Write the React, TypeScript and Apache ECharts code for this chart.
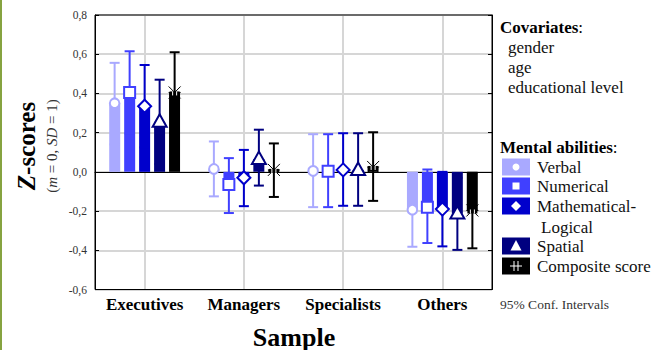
import React, { useEffect, useRef } from "react";
import * as echarts from "echarts";

const categories = ["Executives", "Managers", "Specialists", "Others"];
const abilities = ["Verbal", "Numerical", "Mathematical-Logical", "Spatial", "Composite score"];
const colors = ["#a9a9ff", "#4040ff", "#0000cc", "#000080", "#000000"];

// [mean, lower 95% CI, upper 95% CI] per category
const verbal = [[0.35, 0.14, 0.556], [0.015, -0.125, 0.155], [0.005, -0.18, 0.192], [-0.193, -0.382, -0.005]];
const numerical = [[0.405, 0.195, 0.615], [-0.065, -0.21, 0.07], [0.003, -0.18, 0.192], [-0.18, -0.363, 0.012]];
const mathematical = [[0.335, 0.125, 0.545], [-0.03, -0.175, 0.112], [0.01, -0.173, 0.197], [-0.19, -0.38, 0.0]];
const spatial = [[0.255, 0.04, 0.47], [0.065, -0.07, 0.215], [0.01, -0.173, 0.197], [-0.213, -0.398, -0.03]];
const composite = [[0.405, 0.2, 0.61], [0.01, -0.128, 0.145], [0.025, -0.148, 0.202], [-0.197, -0.39, -0.005]];

const yTicks = { min: -0.6, max: 0.8, interval: 0.2 };

const FONT = "Liberation Serif";

const allSeries = [verbal, numerical, mathematical, spatial, composite];

function txt(text: string, x: number, y: number, size: number, extra: any = {}) {
  return {
    type: "text",
    x,
    y,
    style: {
      text,
      fontFamily: FONT,
      fontSize: size,
      fill: "#111",
      textVerticalAlign: "middle",
      ...extra,
    },
  };
}

function markerShapes(kind: number, cx: number, cy: number, color: string) {
  const st = { fill: "#fff", stroke: color, lineWidth: 2 };
  if (kind === 0) return [{ type: "circle", shape: { cx, cy, r: 4.8 }, style: st }];
  if (kind === 1) return [{ type: "rect", shape: { x: cx - 5.5, y: cy - 5.5, width: 11, height: 11 }, style: st }];
  if (kind === 2)
    return [{ type: "polygon", shape: { points: [[cx, cy - 6.5], [cx + 6.5, cy], [cx, cy + 6.5], [cx - 6.5, cy]] }, style: st }];
  if (kind === 3)
    return [{ type: "polygon", shape: { points: [[cx, cy - 7.5], [cx + 7, cy + 5], [cx - 7, cy + 5]] }, style: st }];
  const ls = { stroke: "#000", lineWidth: 1 };
  return [
    { type: "rect", shape: { x: cx - 5, y: cy - 1, width: 10, height: 4 }, style: { fill: "#000" } },
    { type: "line", shape: { x1: cx - 6, y1: cy - 6, x2: cx + 6, y2: cy + 6 }, style: ls },
    { type: "line", shape: { x1: cx - 6, y1: cy + 6, x2: cx + 6, y2: cy - 6 }, style: ls },
    { type: "line", shape: { x1: cx - 6, y1: cy, x2: cx + 6, y2: cy }, style: ls },
    { type: "line", shape: { x1: cx - 2, y1: cy - 1, x2: cx - 2, y2: cy + 3 }, style: { stroke: "#fff", lineWidth: 1 } },
    { type: "line", shape: { x1: cx + 2, y1: cy - 1, x2: cx + 2, y2: cy + 3 }, style: { stroke: "#fff", lineWidth: 1 } },
  ];
}

export default function App() {
  const ref = useRef<HTMLDivElement>(null);
  useEffect(() => {
    if (!ref.current) return;
    const chart = echarts.init(ref.current, undefined, { renderer: "svg" });

    const barSeries = allSeries.map((s, i) => ({
      type: "bar",
      name: abilities[i],
      data: s.map((d) => d[0]),
      barWidth: 11,
      barGap: "36%",
      itemStyle: { color: colors[i] },
      z: 2,
      silent: true,
    }));

    const errSeries = allSeries.map((s, i) => ({
      type: "custom",
      name: abilities[i] + " CI",
      data: s.map((d, j) => [j, d[0], d[1], d[2]]),
      encode: { x: 0, y: 1 },
      z: 3,
      silent: true,
      renderItem: (params: any, api: any) => {
        const x = api.value(0);
        const c = api.coord([x, api.value(1)]);
        const lo = api.coord([x, api.value(2)]);
        const hi = api.coord([x, api.value(3)]);
        const cx = c[0] + (i - 2) * 15;
        const col = colors[i];
        const ls = { stroke: col, lineWidth: 2 };
        return {
          type: "group",
          children: [
            { type: "line", shape: { x1: cx, y1: lo[1], x2: cx, y2: hi[1] }, style: ls },
            { type: "line", shape: { x1: cx - 5, y1: lo[1], x2: cx + 5, y2: lo[1] }, style: ls },
            { type: "line", shape: { x1: cx - 5, y1: hi[1], x2: cx + 5, y2: hi[1] }, style: ls },
            ...markerShapes(i, cx, c[1], col),
          ],
        };
      },
    }));

    const legendY = [167, 186, 206, 246, 266];
    const legendGraphics: any[] = [];
    abilities.forEach((a, i) => {
      const y = legendY[i];
      legendGraphics.push({
        type: "rect",
        shape: { x: 502, y: y - 8.5, width: 28, height: 17 },
        style: { fill: colors[i] },
      });
      const cx = 516;
      const w = { fill: "#fff" };
      if (i === 0) legendGraphics.push({ type: "circle", shape: { cx, cy: y, r: 3.5 }, style: w });
      if (i === 1) legendGraphics.push({ type: "rect", shape: { x: cx - 3.5, y: y - 3.5, width: 7, height: 7 }, style: w });
      if (i === 2)
        legendGraphics.push({ type: "polygon", shape: { points: [[cx, y - 5], [cx + 5, y], [cx, y + 5], [cx - 5, y]] }, style: w });
      if (i === 3)
        legendGraphics.push({ type: "polygon", shape: { points: [[cx, y - 6], [cx + 5.5, y + 4.5], [cx - 5.5, y + 4.5]] }, style: w });
      if (i === 4) {
        const ws = { stroke: "#fff", lineWidth: 1 };
        legendGraphics.push(
          { type: "line", shape: { x1: cx - 2, y1: y - 5, x2: cx - 2, y2: y + 5 }, style: ws },
          { type: "line", shape: { x1: cx + 2, y1: y - 5, x2: cx + 2, y2: y + 5 }, style: ws },
          { type: "line", shape: { x1: cx - 6, y1: y, x2: cx + 6, y2: y }, style: ws }
        );
      }
      const label = i === 2 ? "Mathematical-" : a;
      legendGraphics.push(txt(label, 537, y, 17));
    });
    legendGraphics.push(txt("Logical", 541, 227, 17));

    const option: any = {
      animation: false,
      backgroundColor: "#fff",
      textStyle: { fontFamily: FONT },
      grid: { left: 95, right: 173, top: 15, bottom: 60.5, show: true, borderColor: "#000", borderWidth: 1, z: 4 },
      xAxis: {
        type: "category",
        data: categories,
        axisLine: { lineStyle: { color: "#000", width: 1 } },
        axisTick: { inside: true, alignWithLabel: true, length: 4, lineStyle: { color: "#000" } },
        splitLine: { show: true, alignWithLabel: true, lineStyle: { color: "#d6d6d6", width: 2 } },
        axisLabel: { interval: 0, fontFamily: FONT, fontWeight: "bold", fontSize: 17, color: "#000", margin: 6 },
      },
      yAxis: [
        {
          type: "value",
          min: yTicks.min,
          max: yTicks.max,
          interval: yTicks.interval,
          axisLine: { show: true, lineStyle: { color: "#000", width: 1 } },
          axisTick: { show: true, inside: true, length: 4, lineStyle: { color: "#000" } },
          splitLine: { show: true, lineStyle: { color: "#d6d6d6", width: 2 } },
          axisLabel: {
            fontFamily: FONT,
            fontSize: 11.5,
            color: "#333",
            margin: 8,
            formatter: (v: number) => v.toFixed(1).replace(".", ",").replace("-0,0", "0,0"),
          },
        },
        {
          type: "value",
          position: "right",
          min: yTicks.min,
          max: yTicks.max,
          interval: yTicks.interval,
          axisLine: { show: true, lineStyle: { color: "#000", width: 1 } },
          axisTick: { show: true, inside: true, length: 4, lineStyle: { color: "#000" } },
          splitLine: { show: false },
          axisLabel: { show: false },
        },
      ],
      series: [...barSeries, ...errSeries],
      graphic: [
        { type: "rect", shape: { x: 0, y: 0, width: 2, height: 350 }, style: { fill: "#86a340" } },
        {
          type: "text",
          x: 26,
          y: 146,
          rotation: Math.PI / 2,
          style: {
            text: "{z|Z}{b|-scores}",
            fontFamily: FONT,
            fontSize: 25,
            fontWeight: "bold",
            fill: "#000",
            textAlign: "center",
            textVerticalAlign: "middle",
            rich: {
              z: { fontStyle: "italic", fontWeight: "bold", fontSize: 25, fontFamily: FONT, fill: "#000" },
              b: { fontWeight: "bold", fontSize: 25, fontFamily: FONT, fill: "#000" },
            },
          },
        },
        {
          type: "text",
          x: 52,
          y: 146,
          rotation: Math.PI / 2,
          style: {
            text: "{r|(}{i|m}{r| = 0, }{i|SD}{r| = 1)}",
            fontFamily: FONT,
            fontSize: 15,
            fill: "#333",
            textAlign: "center",
            textVerticalAlign: "middle",
            rich: {
              i: { fontStyle: "italic", fontSize: 15, fontFamily: FONT, fill: "#333" },
              r: { fontSize: 15, fontFamily: FONT, fill: "#333" },
            },
          },
        },
        txt("Sample", 294, 337, 26, { fontWeight: "bold", fill: "#000", textAlign: "center" }),
        {
          type: "text",
          x: 500,
          y: 27,
          style: {
            text: "{b|Covariates}{r|:}",
            fontFamily: FONT,
            fontSize: 17,
            fill: "#000",
            textVerticalAlign: "middle",
            rich: {
              b: { fontWeight: "bold", fontSize: 17, fontFamily: FONT, fill: "#000" },
              r: { fontSize: 17, fontFamily: FONT, fill: "#000" },
            },
          },
        },
        txt("gender", 508, 47, 17),
        txt("age", 508, 67, 17),
        txt("educational level", 508, 87, 17),
        {
          type: "text",
          x: 500,
          y: 147,
          style: {
            text: "{b|Mental abilities}{r|:}",
            fontFamily: FONT,
            fontSize: 17,
            fill: "#000",
            textVerticalAlign: "middle",
            rich: {
              b: { fontWeight: "bold", fontSize: 17, fontFamily: FONT, fill: "#000" },
              r: { fontSize: 17, fontFamily: FONT, fill: "#000" },
            },
          },
        },
        ...legendGraphics,
        txt("95% Conf. Intervals", 500, 304, 13.5, { fill: "#333" }),
      ],
    };
    chart.setOption(option);
    return () => chart.dispose();
  }, []);
  return <div ref={ref} style={{ position: "absolute", left: 0, top: 0, width: 665, height: 350 }} />;
}
